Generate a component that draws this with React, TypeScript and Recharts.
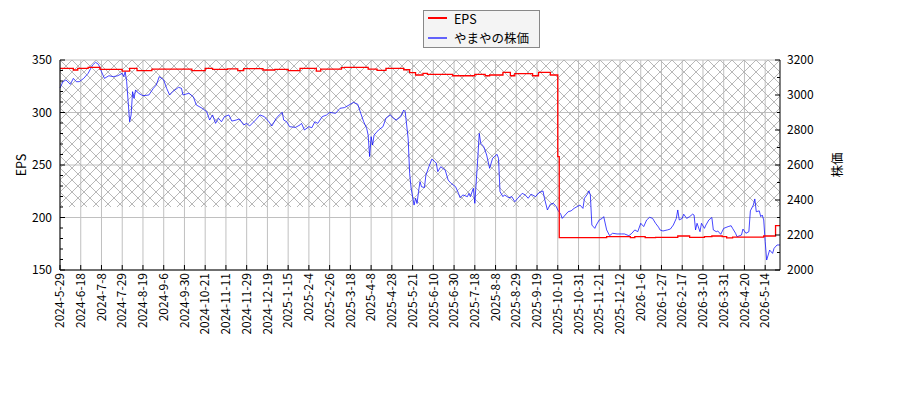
import { LineChart, Line, XAxis, YAxis, CartesianGrid, ReferenceArea } from "recharts";

const tickLabels = [
  "2024-5-29", "2024-6-18", "2024-7-8", "2024-7-29", "2024-8-19", "2024-9-6",
  "2024-9-30", "2024-10-21", "2024-11-11", "2024-11-29", "2024-12-19", "2025-1-15",
  "2025-2-4", "2025-2-26", "2025-3-18", "2025-4-8", "2025-4-28", "2025-5-21",
  "2025-6-10", "2025-6-30", "2025-7-18", "2025-8-8", "2025-8-29", "2025-9-19",
  "2025-10-10", "2025-10-31", "2025-11-21", "2025-12-12", "2026-1-6", "2026-1-27",
  "2026-2-17", "2026-3-10", "2026-3-31", "2026-4-20", "2026-5-14",
];
const tickDays = tickLabels.map((_, i) => i * 14);
const lastDay = 486;

const epsTicks = [150, 160, 170, 180, 190, 200, 210, 220, 230, 240, 250, 260, 270, 280, 290, 300, 310, 320, 330, 340, 350];
const epsGrid = [150, 200, 250, 300, 350];
const priceTicks = [2000, 2100, 2200, 2300, 2400, 2500, 2600, 2700, 2800, 2900, 3000, 3100, 3200];

// [trading day, EPS]
const epsPoints: [number, number][] = [
  [0, 342], [9, 340.5], [12, 342], [19, 343], [27, 341], [42, 339.5], [47, 342], [52, 339.8],
  [62, 341.4], [89, 339.8], [98, 342], [103, 341], [113, 341.5], [120, 339.8], [124, 341.8],
  [137, 340.5], [145, 341], [154, 339.8], [162, 342], [173, 339.5], [176, 341.4], [190, 342.7],
  [192, 343], [208, 341.4], [214, 340.2], [220, 342], [232, 340.7], [236, 337.9], [240, 335.7],
  [245, 337.3], [248, 336.3], [265, 335], [280, 336.3], [287, 335], [290, 335.7], [299, 338.3],
  [304, 335], [307, 337], [319, 335], [323, 338.3], [331, 335.7], [336, 258], [337, 180.8],
  [369, 181.7], [385, 180.8], [388, 181.7], [395, 180.8], [402, 181.1], [417, 182.4], [425, 181.1],
  [435, 181.7], [440, 182.4], [447, 181.7], [450, 180.6], [454, 181.4], [475, 182.4], [483, 192.3],
  [486, 192.3],
];

// [trading day, price]
const pricePoints: [number, number][] = [
  [0, 3040], [2, 3076], [4, 3086], [7, 3061], [9, 3095], [11, 3076], [13, 3076], [16, 3095],
  [19, 3124], [22, 3171], [24, 3187], [26, 3175], [28, 3133], [30, 3095], [33, 3110], [36, 3105],
  [39, 3110], [42, 3124], [43, 3105], [44, 3133], [45, 3076], [46, 2962], [47, 2847], [48, 2886],
  [49, 3019], [50, 2981], [51, 3029], [53, 3010], [56, 2996], [60, 3000], [63, 3038], [65, 3057],
  [67, 3105], [70, 3086], [72, 3038], [74, 3000], [76, 3019], [80, 3044], [82, 3038], [83, 3000],
  [87, 3010], [90, 2990], [92, 2943], [96, 2924], [99, 2905], [101, 2857], [103, 2886], [105, 2838],
  [107, 2867], [109, 2847], [111, 2876], [114, 2886], [116, 2851], [119, 2857], [121, 2863],
  [124, 2829], [126, 2838], [128, 2823], [132, 2857], [135, 2886], [138, 2876], [141, 2847],
  [143, 2823], [146, 2867], [148, 2886], [150, 2901], [151, 2857], [153, 2847], [155, 2819],
  [159, 2815], [162, 2829], [163, 2838], [165, 2800], [168, 2819], [170, 2813], [172, 2847],
  [174, 2838], [177, 2876], [180, 2886], [182, 2901], [186, 2895], [189, 2924], [192, 2928],
  [196, 2947], [198, 2958], [201, 2947], [203, 2895], [205, 2847], [207, 2810], [208, 2771],
  [209, 2648], [210, 2762], [211, 2714], [212, 2771], [215, 2800], [218, 2819], [220, 2867],
  [223, 2886], [225, 2867], [227, 2857], [230, 2876], [232, 2914], [233, 2905], [235, 2752],
  [236, 2552], [237, 2467], [239, 2371], [240, 2410], [241, 2380], [242, 2448], [243, 2505],
  [244, 2476], [246, 2471], [247, 2543], [249, 2590], [251, 2634], [253, 2619], [254, 2610],
  [255, 2562], [257, 2590], [260, 2571], [262, 2514], [264, 2495], [267, 2476], [269, 2438],
  [270, 2413], [272, 2429], [275, 2419], [276, 2438], [277, 2419], [279, 2467], [280, 2381],
  [282, 2638], [283, 2781], [284, 2724], [286, 2705], [288, 2657], [290, 2581], [292, 2638],
  [295, 2661], [296, 2638], [297, 2448], [299, 2419], [300, 2429], [303, 2413], [305, 2419],
  [307, 2390], [309, 2410], [312, 2438], [314, 2429], [316, 2410], [318, 2433], [321, 2419],
  [323, 2440], [326, 2452], [327, 2410], [329, 2343], [331, 2376], [333, 2381], [335, 2362],
  [336, 2343], [338, 2319], [339, 2295], [341, 2314], [343, 2333], [345, 2338], [347, 2352],
  [349, 2362], [351, 2371], [353, 2352], [354, 2410], [356, 2433], [357, 2452], [358, 2429],
  [359, 2257], [361, 2238], [362, 2257], [364, 2286], [366, 2295], [367, 2305], [369, 2229],
  [371, 2196], [373, 2210], [376, 2206], [379, 2206], [381, 2206], [384, 2196], [386, 2210],
  [388, 2229], [390, 2219], [392, 2267], [394, 2248], [396, 2286], [398, 2301], [400, 2295],
  [402, 2267], [404, 2245], [405, 2229], [407, 2223], [410, 2229], [412, 2234], [414, 2257],
  [416, 2295], [417, 2343], [418, 2286], [420, 2295], [421, 2319], [423, 2295], [425, 2305],
  [427, 2319], [428, 2314], [429, 2229], [430, 2267], [432, 2219], [433, 2267], [435, 2238],
  [436, 2257], [438, 2286], [440, 2300], [441, 2229], [443, 2219], [444, 2223], [446, 2204],
  [448, 2238], [451, 2248], [453, 2253], [454, 2238], [456, 2210], [457, 2190], [460, 2200],
  [461, 2234], [463, 2210], [465, 2219], [466, 2338], [468, 2371], [469, 2406], [470, 2333],
  [472, 2338], [473, 2305], [474, 2314], [475, 2286], [476, 2162], [477, 2057], [479, 2114],
  [481, 2095], [482, 2124], [484, 2143], [486, 2143],
];

const epsData = epsPoints.map(([day, eps]) => ({ day, eps }));
const priceData = pricePoints.map(([day, price]) => ({ day, price }));

const FONT = '"Noto Sans CJK JP", "Noto Sans", sans-serif';

const LeftTick = ({ x, y, payload }: any) => {
  const major = payload.value % 50 === 0;
  return (
    <g>
      <line x1={x} x2={x + (major ? 5 : 3)} y1={y} y2={y} stroke="#000" />
      {major && (
        <text x={x - 8} y={y} dy="0.35em" textAnchor="end" fontSize={12} fill="#000">
          {payload.value}
        </text>
      )}
    </g>
  );
};

const RightTick = ({ x, y, payload }: any) => {
  const major = payload.value % 200 === 0;
  return (
    <g>
      <line x1={x} x2={x - (major ? 5 : 3)} y1={y} y2={y} stroke="#000" />
      {major && (
        <text x={x + 7} y={y} dy="0.35em" textAnchor="start" fontSize={12} fill="#000">
          {payload.value}
        </text>
      )}
    </g>
  );
};

const BottomTick = ({ x, y, payload }: any) => (
  <g>
    <line x1={x} x2={x} y1={y} y2={y - 5} stroke="#000" />
    <text
      transform={`translate(${x},${y + 3}) rotate(-90)`}
      dy="0.35em"
      textAnchor="end"
      fontSize={12}
      fill="#000"
    >
      {tickLabels[Math.round(payload.value / 14)]}
    </text>
  </g>
);

export default function App() {
  return (
    <div style={{ position: "absolute", left: 0, top: 0, width: 900, height: 400, background: "#fff", fontFamily: FONT }}>
      <LineChart width={900} height={400} margin={{ top: 60, right: 60, bottom: 60, left: 0 }}>
        <defs>
          <pattern id="hatch" width="12" height="12" patternUnits="userSpaceOnUse">
            <path d="M0,0 L12,12 M12,0 L0,12" stroke="#b0b0b0" strokeWidth={0.9} />
          </pattern>
        </defs>
        <ReferenceArea
          yAxisId="eps"
          x1={0}
          x2={lastDay}
          y1={210}
          y2={350}
          fill="url(#hatch)"
          fillOpacity={1}
          stroke="none"
        />
        <CartesianGrid
          yAxisId="eps"
          stroke="#c0c0c0"
          strokeWidth={1}
          horizontalValues={epsGrid}
          verticalValues={tickDays}
        />
        <XAxis
          dataKey="day"
          type="number"
          domain={[0, lastDay]}
          ticks={tickDays}
          interval={0}
          height={70}
          tickSize={0}
          tickMargin={0}
          tickLine={false}
          axisLine={{ stroke: "#000" }}
          tick={<BottomTick />}
          allowDuplicatedCategory={false}
        />
        <YAxis
          yAxisId="eps"
          domain={[150, 350]}
          ticks={epsTicks}
          interval={0}
          width={60}
          tickSize={0}
          tickMargin={0}
          tickLine={false}
          axisLine={{ stroke: "#000" }}
          tick={<LeftTick />}
        />
        <YAxis
          yAxisId="price"
          orientation="right"
          domain={[2000, 3200]}
          ticks={priceTicks}
          interval={0}
          width={60}
          tickSize={0}
          tickMargin={0}
          tickLine={false}
          axisLine={{ stroke: "#000" }}
          tick={<RightTick />}
        />
        <Line
          yAxisId="price"
          data={priceData}
          dataKey="price"
          type="linear"
          stroke="#0000ff"
          strokeOpacity={0.72}
          strokeWidth={1}
          dot={false}
          isAnimationActive={false}
        />
        <Line
          yAxisId="eps"
          data={epsData}
          dataKey="eps"
          type="stepAfter"
          stroke="#ff0000"
          strokeWidth={1.3}
          dot={false}
          isAnimationActive={false}
        />
      </LineChart>

      <div style={{ position: "absolute", left: 20, top: 165, fontSize: 12.5, transform: "translate(-50%, -50%) rotate(-90deg)" }}>
        EPS
      </div>
      <div style={{ position: "absolute", left: 836, top: 165, fontSize: 12.5, transform: "translate(-50%, -50%) rotate(-90deg)", whiteSpace: "nowrap" }}>
        株価
      </div>

      <div
        style={{
          position: "absolute",
          left: 423,
          top: 10,
          width: 115,
          height: 36,
          border: "1px solid #888",
          background: "#f4f4f4",
          fontSize: 12.5,
        }}
      >
        <div style={{ position: "absolute", left: 4, top: 6, width: 19, height: 2, background: "#ff0000" }} />
        <div style={{ position: "absolute", left: 30, top: 0, lineHeight: "15px" }}>EPS</div>
        <div style={{ position: "absolute", left: 4, top: 26, width: 19, height: 2, background: "#0000ff", opacity: 0.6 }} />
        <div style={{ position: "absolute", left: 30, top: 19, lineHeight: "16px", whiteSpace: "nowrap" }}>やまやの株価</div>
      </div>
    </div>
  );
}
